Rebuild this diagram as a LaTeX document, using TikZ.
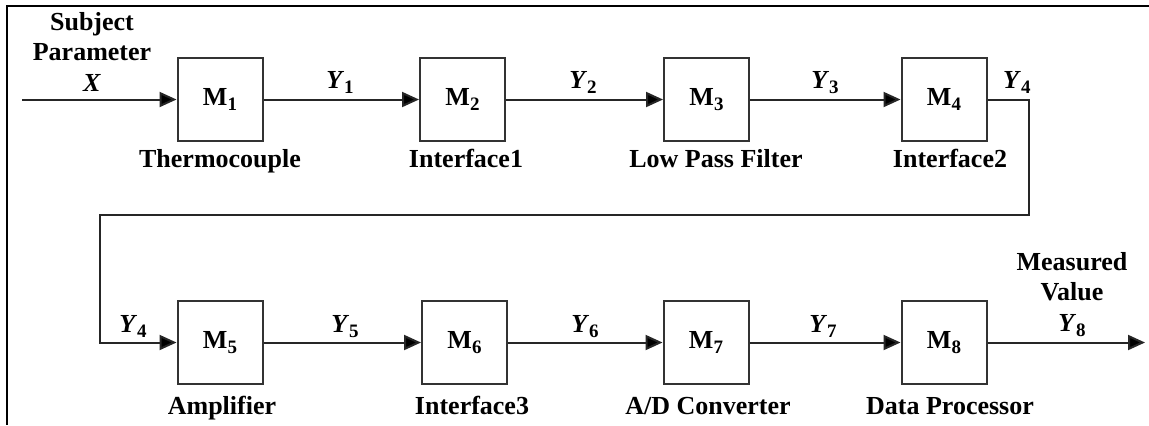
\documentclass[tikz,border=0pt]{standalone}
\usepackage{fontspec}
\setmainfont{Liberation Serif}
\usetikzlibrary{arrows.meta}
\newcommand\lowsub[1]{\raisebox{-2.5pt}{\fontsize{9.5pt}{10pt}\selectfont #1}}
\tikzset{
  px/.style={x=0.5pt,y=-0.5pt},
  txt/.style={font=\fontsize{13pt}{15.25pt}\selectfont\bfseries, inner sep=0pt},
  block/.style={draw=black!80, line width=1pt, minimum width=42.5pt, minimum height=41.5pt, inner sep=0pt, font=\fontsize{13pt}{15.25pt}\selectfont\bfseries},
  conn/.style={draw=black!85, line width=1pt},
  arr/.style={conn, -{Triangle[length=8.5pt,width=7.5pt,fill=black]}},
  frame/.style={draw=black, line width=1.2pt},
}
\begin{document}
\begin{tikzpicture}[px]
\useasboundingbox (0,0) rectangle (1149,425);
% frame
\coordinate (ftr) at (1149,6);
\coordinate (fbl) at (7,425);
\draw[frame] (ftr) -| (fbl);
% blocks
\node[block] (m1) at (220,99.5) {M\lowsub{1}};
\node[block] (m2) at (462.5,99.5) {M\lowsub{2}};
\node[block] (m3) at (706.5,99.5) {M\lowsub{3}};
\node[block] (m4) at (944,99.5) {M\lowsub{4}};
\node[block] (m5) at (220,342.5) {M\lowsub{5}};
\node[block] (m6) at (464.5,342.5) {M\lowsub{6}};
\node[block] (m7) at (706,342.5) {M\lowsub{7}};
\node[block] (m8) at (944,342.5) {M\lowsub{8}};
% connectors
\coordinate (xin) at (22,99.5);
\coordinate (yout) at (1145,342.5);
\coordinate (c1) at (1029,215);
\coordinate (c2) at (100,215);
\draw[arr] (xin) -- (m1);
\draw[arr] (m1) -- (m2);
\draw[arr] (m2) -- (m3);
\draw[arr] (m3) -- (m4);
\draw[arr] (m4.east) -| (c1) -- (c2) |- (m5.west);
\draw[arr] (m5) -- (m6);
\draw[arr] (m6) -- (m7);
\draw[arr] (m7) -- (m8);
\draw[arr] (m8) -- (yout);
% signal labels
\node[txt, anchor=base, align=center] (lx) at (92,91) {Subject\\Parameter\\\textit{X}};
\node[txt, anchor=base] (ly1) at (340,88) {\textit{Y}\lowsub{1}};
\node[txt, anchor=base] (ly2) at (583,88) {\textit{Y}\lowsub{2}};
\node[txt, anchor=base] (ly3) at (825,88) {\textit{Y}\lowsub{3}};
\node[txt, anchor=base east] (ly4a) at (1031,88) {\textit{Y}\lowsub{4}};
\node[txt, anchor=base] (ly4b) at (133,332) {\textit{Y}\lowsub{4}};
\node[txt, anchor=base] (ly5) at (345,332) {\textit{Y}\lowsub{5}};
\node[txt, anchor=base] (ly6) at (585,332) {\textit{Y}\lowsub{6}};
\node[txt, anchor=base] (ly7) at (823,332) {\textit{Y}\lowsub{7}};
\node[txt, anchor=base, align=center] (ly8) at (1072,331) {Measured\\Value\\\textit{Y}\lowsub{8}};
% block names
\node[txt, anchor=base] (n1) at (220,167) {Thermocouple};
\node[txt, anchor=base] (n2) at (466,167) {Interface1};
\node[txt, anchor=base] (n3) at (716,167) {Low Pass Filter};
\node[txt, anchor=base] (n4) at (950,167) {Interface2};
\node[txt, anchor=base] (n5) at (222,414) {Amplifier};
\node[txt, anchor=base] (n6) at (472,414) {Interface3};
\node[txt, anchor=base] (n7) at (708,414) {A/D Converter};
\node[txt, anchor=base] (n8) at (950,414) {Data Processor};
\end{tikzpicture}
\end{document}
